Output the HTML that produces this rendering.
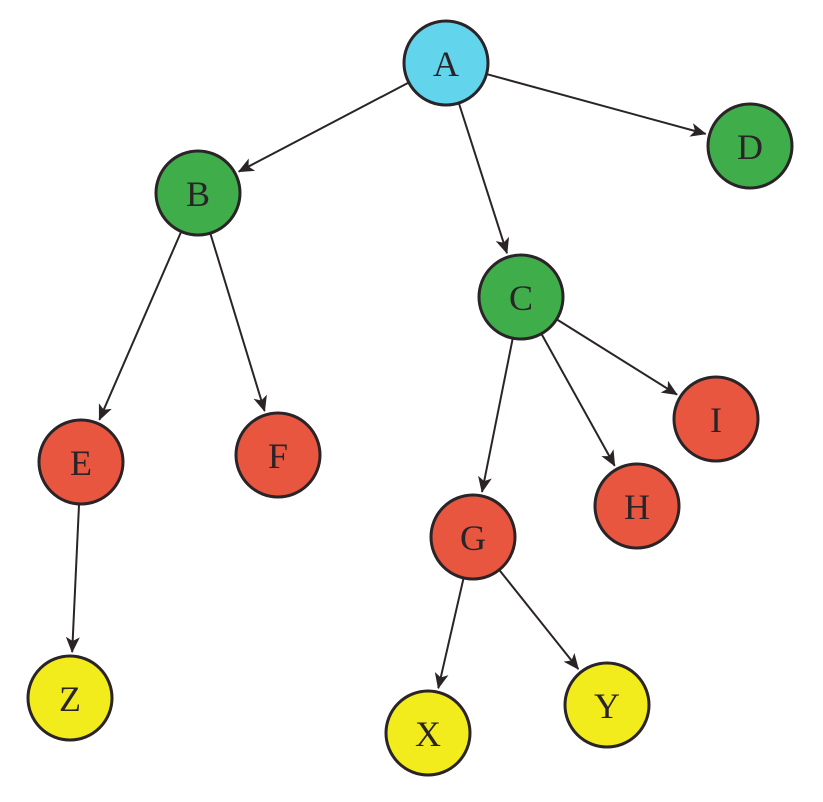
<!DOCTYPE html>
<html><head><meta charset="utf-8"><style>
html,body{margin:0;padding:0;background:#fff;}
svg{display:block}
text{font-family:"Liberation Serif",serif;font-size:36px;fill:#2a2428;text-anchor:middle;dominant-baseline:central}
</style></head><body>
<svg id="s" width="823" height="802" viewBox="0 0 823 802" xmlns="http://www.w3.org/2000/svg">
<defs><marker id="ah" markerWidth="16" markerHeight="14" refX="15" refY="7" orient="auto" markerUnits="userSpaceOnUse" viewBox="0 0 16 14"><path d="M0,0 L16,7 L0,14 L4,7 z" fill="#2a2428"/></marker></defs>
<g id="e"></g><g id="n"></g>
</svg>
<script>
var N={A:[446,63,'#62d4ec'],B:[198,193,'#3fae4a'],D:[750,146,'#3fae4a'],C:[521,297,'#3fae4a'],
E:[81,462,'#e8563f'],F:[278,455,'#e8563f'],I:[716,419,'#e8563f'],H:[637,506,'#e8563f'],G:[473,537,'#e8563f'],
Z:[70,698,'#f2ec1c'],X:[428,733,'#f2ec1c'],Y:[607,705,'#f2ec1c']};
var E=[['A','B'],['A','C'],['A','D'],['B','E'],['B','F'],['C','G'],['C','H'],['C','I'],['E','Z'],['G','X'],['G','Y']];
var R=42,ns='http://www.w3.org/2000/svg',eg=document.getElementById('e'),ng=document.getElementById('n');
E.forEach(function(p){var a=N[p[0]],b=N[p[1]],dx=b[0]-a[0],dy=b[1]-a[1],d=Math.hypot(dx,dy),ux=dx/d,uy=dy/d;
var l=document.createElementNS(ns,'line');l.setAttribute('x1',a[0]+ux*R);l.setAttribute('y1',a[1]+uy*R);
l.setAttribute('x2',b[0]-ux*(R+4));l.setAttribute('y2',b[1]-uy*(R+4));l.setAttribute('stroke','#2a2428');l.setAttribute('stroke-width','2');l.setAttribute('marker-end','url(#ah)');eg.appendChild(l);});
for(var k in N){var v=N[k],c=document.createElementNS(ns,'circle');c.setAttribute('cx',v[0]);c.setAttribute('cy',v[1]);c.setAttribute('r',R);c.setAttribute('fill',v[2]);c.setAttribute('stroke','#2a2428');c.setAttribute('stroke-width','3');ng.appendChild(c);
var t=document.createElementNS(ns,'text');t.setAttribute('x',v[0]);t.setAttribute('y',v[1]+1);t.textContent=k;ng.appendChild(t);}
</script>
</body></html>
